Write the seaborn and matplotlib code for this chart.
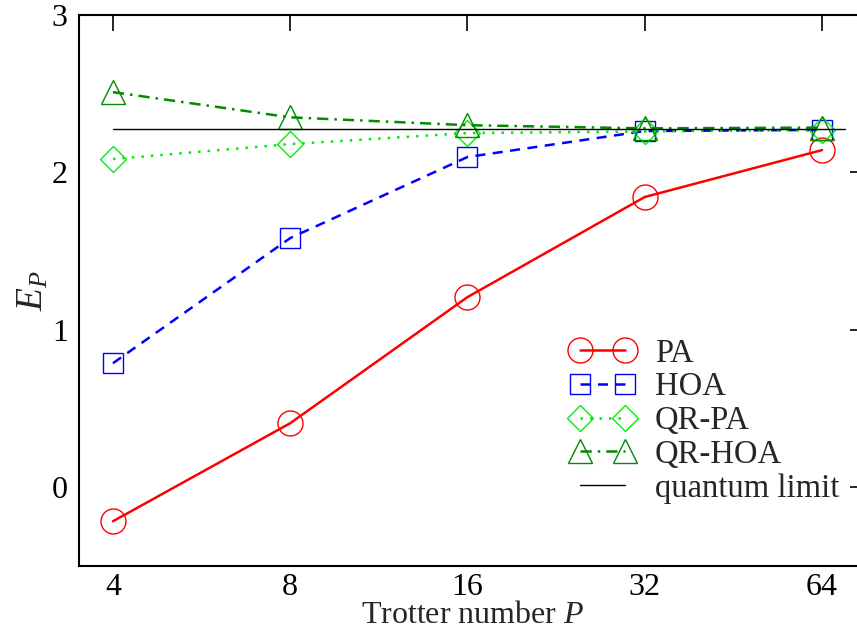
import numpy as np
import pandas as pd
import matplotlib
matplotlib.use("Agg")
import matplotlib.pyplot as plt
import seaborn as sns

# ---- data ----
trotter = [4, 8, 16, 32, 64]
pa = [-0.216, 0.407, 1.208, 1.844, 2.142]
hoa = [0.788, 1.583, 2.098, 2.263, 2.270]
qr_pa = [2.085, 2.180, 2.250, 2.260, 2.270]
qr_hoa = [2.510, 2.350, 2.300, 2.280, 2.285]
quantum_limit = 2.276
qlim_x = [4, 70]
xtick_labels = ["4", "8", "16", "32", "64"]
series_names = ["PA", "HOA", "QR-PA", "QR-HOA"]

sns.set_theme(style="white")
plt.rcParams["font.family"] = ["Liberation Serif", "DejaVu Serif"]
plt.rcParams["mathtext.fontset"] = "custom"
plt.rcParams["mathtext.rm"] = "Liberation Serif"
plt.rcParams["mathtext.it"] = "Liberation Serif:italic"

fig = plt.figure(figsize=(8.57, 6.35), dpi=100)
ax = fig.add_axes([79 / 857, 1 - 566 / 635, (866 - 79) / 857, (566 - 15) / 635])

df = pd.DataFrame({"P": trotter * 4,
                   "E": pa + hoa + qr_pa + qr_hoa,
                   "series": sum([[n] * len(trotter) for n in series_names], [])})

styles = {
    "PA": dict(color="#ff0000", marker="o", ms=18, ls="-"),
    "HOA": dict(color="#0000ff", marker="s", ms=14.5, ls=(0, (4, 3))),
    "QR-PA": dict(color="#00ee00", marker="D", ms=12.8, ls=(0, (1, 2.8))),
    "QR-HOA": dict(color="#008b00", marker="^", ms=17, ls=(0, (4.5, 2.4, 1, 2.4))),
}

for name in series_names:
    st = styles[name]
    sub = df[df["series"] == name]
    sns.lineplot(data=sub, x="P", y="E", ax=ax, color=st["color"], lw=1.8,
                 linestyle=st["ls"], marker=st["marker"], markersize=st["ms"],
                 markerfacecolor="none", markeredgecolor=st["color"],
                 markeredgewidth=1.0, label=name, legend=False)

ax.plot(qlim_x, [quantum_limit, quantum_limit], color="black", lw=1.0,
        label="quantum limit")

ax.set_xscale("log", base=2)
ax.set_xlim(3.503, 76.0)
ax.set_ylim(-0.5, 3)
ax.set_xticks(trotter)
ax.set_xticklabels(xtick_labels)
ax.xaxis.set_minor_locator(matplotlib.ticker.NullLocator())
ax.set_yticks([0, 1, 2, 3])
ax.set_yticklabels(["0", "1", "2", "3"])
ax.yaxis.set_minor_locator(matplotlib.ticker.MultipleLocator(0.1))

ax.tick_params(which="both", direction="in", top=True, right=True,
               labelsize=23, colors="black")
ax.tick_params(axis="y", pad=8)
ax.tick_params(axis="x", pad=5)
ax.tick_params(which="major", length=11.5, width=1.2)
ax.tick_params(which="minor", length=5.8, width=1.2)
for sp in ax.spines.values():
    sp.set_linewidth(1.5)
    sp.set_color("black")

ax.set_xlabel("Trotter number $P$", fontsize=23, labelpad=-1)
ax.set_ylabel("$E_P$", fontsize=27, labelpad=1)
ax.grid(False)

leg = ax.legend(loc="upper left", bbox_to_anchor=(570 / 857, 1 - 338 / 635),
                bbox_transform=fig.transFigure, frameon=False, numpoints=2,
                fontsize=23.5, handlelength=2.0, handletextpad=0.6,
                labelspacing=0.1, borderpad=0, borderaxespad=0)

fig.savefig("out.png", dpi=100)
